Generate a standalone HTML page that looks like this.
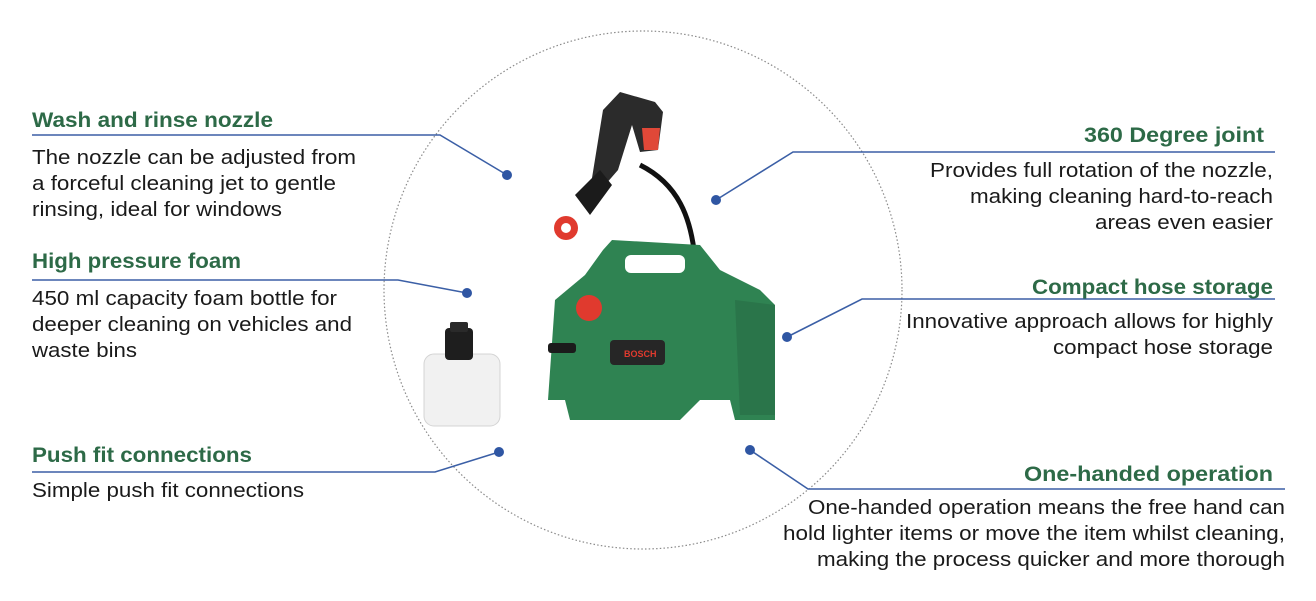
<!DOCTYPE html>
<html><head><meta charset="utf-8"><style>
html,body{margin:0;padding:0;background:#fff;}
svg{display:block;}
.h{font-family:"Liberation Sans",sans-serif;font-weight:bold;font-size:21px;fill:#2d6a47;}
.b{font-family:"Liberation Sans",sans-serif;font-size:20px;fill:#1a1a1a;}
.l{stroke:#3b5fa6;stroke-width:1.6;fill:none;}
.d{fill:#2f56a3;}
</style></head><body>
<svg width="1316" height="601" viewBox="0 0 1316 601">
<circle cx="643" cy="290" r="259" fill="none" stroke="#8a8a8a" stroke-width="1.2" stroke-dasharray="1.5 2.2"/>

<rect x="424" y="354" width="76" height="72" rx="10" fill="#f1f1f1" stroke="#d4d4d4"/>
<rect x="445" y="328" width="28" height="32" rx="4" fill="#1e1e1e"/>
<rect x="450" y="322" width="18" height="10" rx="2" fill="#2a2a2a"/>
<path d="M640 165 C680 185,690 220,694 250" stroke="#111" stroke-width="5" fill="none"/>
<path d="M603 110 L620 92 L655 102 L663 112 L658 150 L640 152 L632 125 L618 170 L605 185 L592 178 Z" fill="#2b2b2b"/>
<path d="M642 128 L660 128 L658 150 L644 150 Z" fill="#e04838"/>
<path d="M575 195 L600 170 L612 185 L590 215 Z" fill="#1b1b1b"/>
<circle cx="566" cy="228" r="12" fill="#e03a2e"/>
<circle cx="566" cy="228" r="5" fill="#fff"/>
<path d="M603 250 L612 240 L700 245 L720 270 L760 290 L775 305 L775 420 L735 420 L730 400 L700 400 L680 420 L570 420 L565 400 L548 400 L555 300 L585 275 Z" fill="#2f8352"/>
<rect x="625" y="255" width="60" height="18" rx="6" fill="#fff"/>
<path d="M735 300 L775 305 L775 415 L740 415 Z" fill="#2a754a"/>
<circle cx="589" cy="308" r="13" fill="#e03a2e"/>
<rect x="610" y="340" width="55" height="25" rx="4" fill="#262626"/>
<text x="624" y="357" font-family="Liberation Sans,sans-serif" font-size="9" font-weight="bold" fill="#e03a2e">BOSCH</text>
<rect x="548" y="343" width="28" height="10" rx="3" fill="#1b1b1b"/>

<polyline class="l" points="32,135 440,135 507,175"/><circle class="d" cx="507" cy="175" r="5"/>
<polyline class="l" points="32,280 398,280 467,293"/><circle class="d" cx="467" cy="293" r="5"/>
<polyline class="l" points="32,472 435,472 499,452"/><circle class="d" cx="499" cy="452" r="5"/>
<polyline class="l" points="716,200 793,152 1275,152"/><circle class="d" cx="716" cy="200" r="5"/>
<polyline class="l" points="787,337 862,299 1275,299"/><circle class="d" cx="787" cy="337" r="5"/>
<polyline class="l" points="750,450 808,489 1285,489"/><circle class="d" cx="750" cy="450" r="5"/>

<g lengthAdjust="spacingAndGlyphs">
<text class="h" x="32" y="127" textLength="241" lengthAdjust="spacingAndGlyphs">Wash and rinse nozzle</text>
<text class="b" x="32" y="164" textLength="324" lengthAdjust="spacingAndGlyphs">The nozzle can be adjusted from</text>
<text class="b" x="32" y="190" textLength="304" lengthAdjust="spacingAndGlyphs">a forceful cleaning jet to gentle</text>
<text class="b" x="32" y="216" textLength="250" lengthAdjust="spacingAndGlyphs">rinsing, ideal for windows</text>

<text class="h" x="32" y="268" textLength="209" lengthAdjust="spacingAndGlyphs">High pressure foam</text>
<text class="b" x="32" y="305" textLength="305" lengthAdjust="spacingAndGlyphs">450 ml capacity foam bottle for</text>
<text class="b" x="32" y="331" textLength="320" lengthAdjust="spacingAndGlyphs">deeper cleaning on vehicles and</text>
<text class="b" x="32" y="357" textLength="105" lengthAdjust="spacingAndGlyphs">waste bins</text>

<text class="h" x="32" y="462" textLength="220" lengthAdjust="spacingAndGlyphs">Push fit connections</text>
<text class="b" x="32" y="497" textLength="272" lengthAdjust="spacingAndGlyphs">Simple push fit connections</text>

<text class="h" x="1084" y="142" textLength="180" lengthAdjust="spacingAndGlyphs">360 Degree joint</text>
<text class="b" x="930" y="177" textLength="343" lengthAdjust="spacingAndGlyphs">Provides full rotation of the nozzle,</text>
<text class="b" x="970" y="203" textLength="303" lengthAdjust="spacingAndGlyphs">making cleaning hard-to-reach</text>
<text class="b" x="1095" y="229" textLength="178" lengthAdjust="spacingAndGlyphs">areas even easier</text>

<text class="h" x="1032" y="294" textLength="241" lengthAdjust="spacingAndGlyphs">Compact hose storage</text>
<text class="b" x="906" y="328" textLength="367" lengthAdjust="spacingAndGlyphs">Innovative approach allows for highly</text>
<text class="b" x="1053" y="354" textLength="220" lengthAdjust="spacingAndGlyphs">compact hose storage</text>

<text class="h" x="1024" y="481" textLength="249" lengthAdjust="spacingAndGlyphs">One-handed operation</text>
<text class="b" x="808" y="514" textLength="477" lengthAdjust="spacingAndGlyphs">One-handed operation means the free hand can</text>
<text class="b" x="783" y="540" textLength="502" lengthAdjust="spacingAndGlyphs">hold lighter items or move the item whilst cleaning,</text>
<text class="b" x="817" y="566" textLength="468" lengthAdjust="spacingAndGlyphs">making the process quicker and more thorough</text>
</g>
</svg>
</body></html>
